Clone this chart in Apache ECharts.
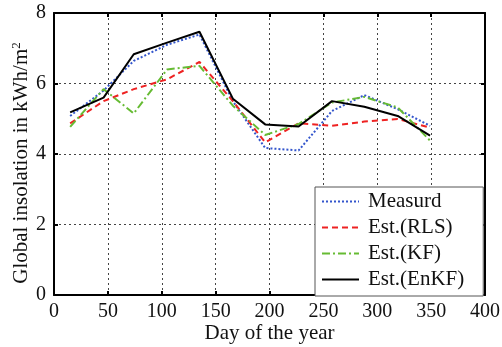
<!DOCTYPE html>
<html>
<head>
<meta charset="utf-8">
<script src="https://cdn.jsdelivr.net/npm/echarts@6/dist/echarts.min.js"></script>
<style>
html, body { margin: 0; padding: 0; background: #fff; }
#chart { width: 502px; height: 347px; }
</style>
</head>
<body>
<div id="chart"></div>
<script>
// Mid-month day numbers
const days = [15, 46, 74, 105, 135, 166, 196, 227, 258, 288, 319, 349];
// Daily global insolation (kWh/m^2)
const measured = [5.08, 5.8, 6.64, 7.1, 7.39, 5.5, 4.17, 4.1, 5.22, 5.67, 5.27, 4.8];
const estRLS   = [4.87, 5.5, 5.84, 6.12, 6.61, 5.5, 4.33, 4.87, 4.8, 4.92, 4.99, 4.75];
const estKF    = [4.77, 5.84, 5.15, 6.4, 6.5, 5.37, 4.54, 4.85, 5.46, 5.62, 5.32, 4.38];
const estEnKF  = [5.18, 5.6, 6.83, 7.16, 7.47, 5.57, 4.84, 4.78, 5.5, 5.34, 5.08, 4.52];
const xTicks = [0, 50, 100, 150, 200, 250, 300, 350, 400];
const yTicks = [0, 2, 4, 6, 8];

const font = 'Liberation Serif';
const pair = (ys) => days.map((d, i) => [d, ys[i]]);
const gridLine = { show: true, lineStyle: { color: '#444', width: 1, type: [2, 3] } };
const frameLine = { show: true, onZero: false, lineStyle: { color: '#000', width: 2 } };
const tick = { show: true, inside: true, length: 4, lineStyle: { color: '#000', width: 2 } };

function line(name, ys, color, type, width) {
  return {
    name, type: 'line', data: pair(ys), symbol: 'none',
    lineStyle: { color, type, width }, itemStyle: { color },
    z: name === 'Est.(EnKF)' ? 5 : 3
  };
}

const chart = echarts.init(document.getElementById('chart'));
chart.setOption({
  animation: false,
  grid: { left: 54, right: 17, top: 13, bottom: 52, containLabel: false, outerBoundsMode: 'none' },
  xAxis: [{
    type: 'value', min: xTicks[0], max: xTicks[xTicks.length - 1], interval: 50,
    name: 'Day of the year', nameLocation: 'middle', nameGap: 28, nameMoveOverlap: false,
    nameTextStyle: { fontFamily: font, fontSize: 21, color: '#111' },
    axisLine: frameLine, axisTick: tick, splitLine: gridLine,
    axisLabel: { fontFamily: font, fontSize: 20, color: '#111', margin: 7 }
  }, {
    type: 'value', position: 'top', min: 0, max: 400, interval: 50,
    axisLine: frameLine, axisTick: tick, splitLine: { show: false },
    axisLabel: { show: false }
  }],
  yAxis: [{
    type: 'value', min: yTicks[0], max: yTicks[yTicks.length - 1], interval: 2,
    name: '{a|Global insolation in kWh/m}{s|2}', nameLocation: 'middle', nameGap: 21, nameMoveOverlap: false,
    nameTextStyle: {
      fontFamily: font, fontSize: 21, color: '#111',
      rich: {
        a: { fontFamily: font, fontSize: 21, color: '#111' },
        s: { fontFamily: font, fontSize: 13, color: '#111', verticalAlign: 'top', padding: [0, 18, 10, 0] }
      }
    },
    axisLine: frameLine, axisTick: tick, splitLine: gridLine,
    axisLabel: { fontFamily: font, fontSize: 20, color: '#111', margin: 8 }
  }, {
    type: 'value', position: 'right', min: 0, max: 8, interval: 2,
    axisLine: frameLine, axisTick: tick, splitLine: { show: false },
    axisLabel: { show: false }
  }],
  legend: {
    orient: 'vertical', left: 315, top: 187,
    backgroundColor: '#fff', borderColor: '#555', borderWidth: 1,
    padding: [4, 19, 6, 6],
    itemWidth: 37, itemHeight: 14, itemGap: 5,
    itemStyle: { opacity: 0 },
    textStyle: { fontFamily: font, fontSize: 21, color: '#111', padding: [0, 0, 0, 4] },
    data: ['Measurd', 'Est.(RLS)', 'Est.(KF)', 'Est.(EnKF)']
  },
  series: [
    line('Measurd', measured, '#3355cc', [2, 2], 2),
    line('Est.(RLS)', estRLS, '#ee2222', [6, 4], 2),
    line('Est.(KF)', estKF, '#66bb33', [8, 3, 2, 3], 2),
    line('Est.(EnKF)', estEnKF, '#000000', 'solid', 2)
  ]
});
</script>
</body>
</html>
